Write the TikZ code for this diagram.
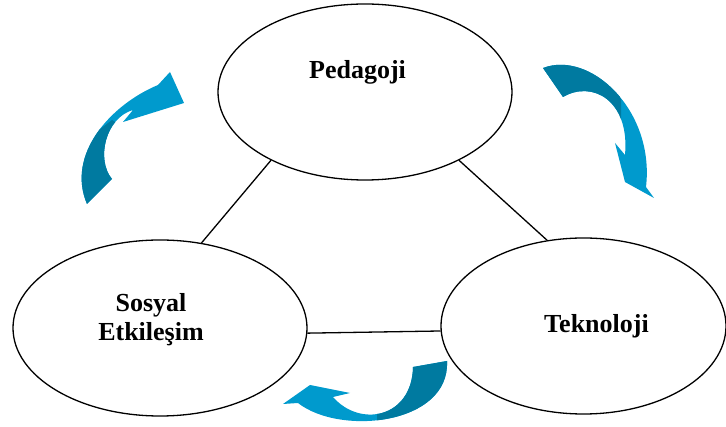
\documentclass[tikz,border=0pt]{standalone}
\usepackage{fontspec}
\setmainfont{Liberation Serif}
\usetikzlibrary{shapes.geometric}
\definecolor{arrowdark}{RGB}{0,122,160}
\definecolor{arrowlight}{RGB}{0,154,205}
% outlines of the three curved arrows
\newcommand\arcarrowA{(87,204) .. controls (66,155) and (110,105) .. (158,85)
  -- (170,72) -- (184,103) -- (123,122) -- (133,110)
  .. controls (105,118) and (96,160) .. (112,179) -- cycle}
\newcommand\arcarrowB{(543,68) .. controls (590,50) and (655,110) .. (646,187)
  -- (654,198) -- (625,182) -- (615,143) -- (625,155)
  .. controls (630,100) and (592,80) .. (563,97) -- cycle}
\newcommand\arcarrowC{(447,361) .. controls (450,425) and (340,436) .. (298,403)
  -- (283,404) -- (310,385) -- (350,393) -- (333,397)
  .. controls (360,428) and (412,418) .. (413,367) -- cycle}
\begin{document}
\begin{tikzpicture}[x=1pt,y=-1pt,
  bubble/.style={draw, ellipse, line width=1.3pt, inner sep=0pt,
                 minimum width=#1, minimum height=176pt},
  caption/.style={font=\fontsize{26}{29}\selectfont\bfseries, inner sep=0pt, align=center},
  link/.style={line width=1.3pt}]
\useasboundingbox (0,0) rectangle (726,427);

% the three concept ellipses
\node[bubble=294pt] (ped) at (365,92) {};
\node[bubble=294pt] (sos) at (160,328) {};
\node[bubble=285pt] (tek) at (583.5,326) {};

% their titles
\node[caption, anchor=base] (pedtxt) at (357.5,79) {Pedagoji};
\node[caption, anchor=base] (tektxt) at (596.5,333) {Teknoloji};
\node[caption] (sostxt) at (151,320) {Sosyal\\Etkileşim};

% connecting lines
\draw[link] (ped.216.3) -- (sos.64.7);
\draw[link] (ped.324.1) -- (tek.113.3);
\draw[link] (sos.-2) -- (tek.182.8);

% curved arrows: light front face, darker tail where the ribbon turns
\fill[arrowlight] \arcarrowA;
\begin{scope}
  \clip (40,175) -- (112,120) -- (160,150) -- (160,230) -- (40,230) -- cycle;
  \fill[arrowdark] \arcarrowA;
\end{scope}

\fill[arrowlight] \arcarrowB;
\begin{scope}
  \clip (520,40) -- (610,40) -- (621,100) -- (621,125) -- (520,125) -- cycle;
  \fill[arrowdark] \arcarrowB;
\end{scope}

\fill[arrowlight] \arcarrowC;
\begin{scope}
  \clip (377,345) rectangle (460,427);
  \fill[arrowdark] \arcarrowC;
\end{scope}
\end{tikzpicture}
\end{document}
